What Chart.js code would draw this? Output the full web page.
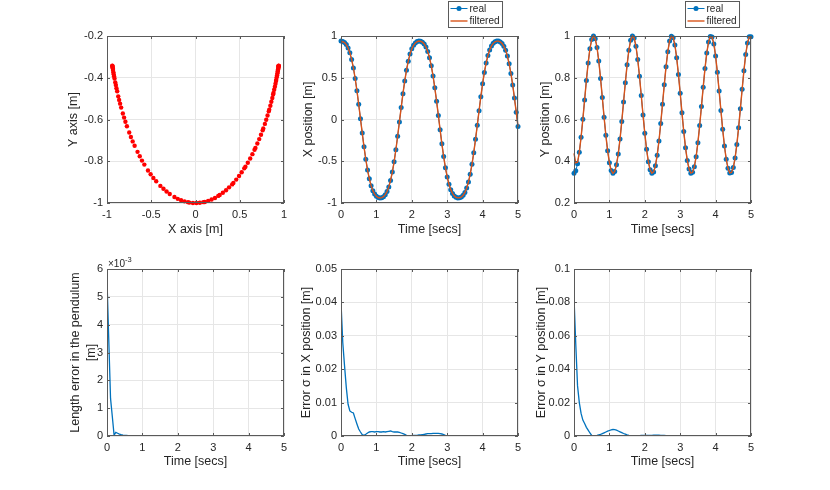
<!DOCTYPE html>
<html>
<head>
<meta charset="utf-8">
<script src="https://cdn.jsdelivr.net/npm/chart.js@4.4.0/dist/chart.umd.min.js"></script>
<style>
  body { margin: 0; background: #fff; }
  #fig { position: relative; width: 830px; height: 490px; background: #fff; overflow: hidden; }
  #fig canvas { position: absolute; }
</style>
</head>
<body>
<div id="fig">
  <canvas id="trajectory" width="261" height="248" style="left:37px;top:0px"></canvas>
  <canvas id="xpos" width="261" height="248" style="left:271px;top:0px"></canvas>
  <canvas id="ypos" width="261" height="248" style="left:504px;top:0px"></canvas>
  <canvas id="lenerr" width="261" height="242" style="left:37px;top:239px"></canvas>
  <canvas id="xerr" width="261" height="242" style="left:271px;top:239px"></canvas>
  <canvas id="yerr" width="261" height="242" style="left:504px;top:239px"></canvas>
</div>
<script>
// sample times [s]
const time = [0,0.05,0.1,0.15,0.2,0.25,0.3,0.35,0.4,0.45,
  0.5,0.55,0.6,0.65,0.7,0.75,0.8,0.85,0.9,0.95,
  1,1.05,1.1,1.15,1.2,1.25,1.3,1.35,1.4,1.45,
  1.5,1.55,1.6,1.65,1.7,1.75,1.8,1.85,1.9,1.95,
  2,2.05,2.1,2.15,2.2,2.25,2.3,2.35,2.4,2.45,
  2.5,2.55,2.6,2.65,2.7,2.75,2.8,2.85,2.9,2.95,
  3,3.05,3.1,3.15,3.2,3.25,3.3,3.35,3.4,3.45,
  3.5,3.55,3.6,3.65,3.7,3.75,3.8,3.85,3.9,3.95,
  4,4.05,4.1,4.15,4.2,4.25,4.3,4.35,4.4,4.45,
  4.5,4.55,4.6,4.65,4.7,4.75,4.8,4.85,4.9,4.95,
  5];

// measured X position [m]
const realX = [0.940,0.935,0.922,0.897,0.857,0.799,0.720,0.618,0.492,0.345,
  0.182,0.010,-0.163,-0.327,-0.476,-0.605,-0.710,-0.792,-0.852,-0.893,
  -0.920,-0.934,-0.940,-0.936,-0.924,-0.900,-0.863,-0.807,-0.730,-0.630,
  -0.507,-0.362,-0.201,-0.029,0.143,0.309,0.460,0.591,0.699,0.784,
  0.846,0.889,0.917,0.933,0.940,0.937,0.926,0.904,0.868,0.814,
  0.740,0.643,0.522,0.379,0.220,0.049,-0.124,-0.291,-0.444,-0.578,
  -0.688,-0.775,-0.840,-0.885,-0.915,-0.932,-0.939,-0.938,-0.928,-0.907,
  -0.873,-0.821,-0.749,-0.655,-0.537,-0.397,-0.238,-0.069,0.105,0.273,
  0.428,0.564,0.677,0.766,0.833,0.881,0.912,0.931,0.939,0.939,
  0.929,0.910,0.877,0.828,0.759,0.667,0.551,0.414,0.257,0.088,
  -0.085];

// filtered X position [m]
const filteredX = [0.925,0.932,0.922,0.897,0.857,0.799,0.720,0.618,0.492,0.345,
  0.182,0.010,-0.163,-0.327,-0.476,-0.605,-0.710,-0.792,-0.852,-0.893,
  -0.920,-0.934,-0.940,-0.936,-0.924,-0.900,-0.863,-0.807,-0.730,-0.630,
  -0.507,-0.362,-0.201,-0.029,0.143,0.309,0.460,0.591,0.699,0.784,
  0.846,0.889,0.917,0.933,0.940,0.937,0.926,0.904,0.868,0.814,
  0.740,0.643,0.522,0.379,0.220,0.049,-0.124,-0.291,-0.444,-0.578,
  -0.688,-0.775,-0.840,-0.885,-0.915,-0.932,-0.939,-0.938,-0.928,-0.907,
  -0.873,-0.821,-0.749,-0.655,-0.537,-0.397,-0.238,-0.069,0.105,0.273,
  0.428,0.564,0.677,0.766,0.833,0.881,0.912,0.931,0.939,0.939,
  0.929,0.910,0.877,0.828,0.759,0.667,0.551,0.414,0.257,0.088,
  -0.085];

// measured Y position [m]
const realY = [0.342,0.354,0.388,0.443,0.515,0.601,0.694,0.787,0.871,0.939,
  0.983,1.000,0.987,0.945,0.880,0.797,0.705,0.611,0.524,0.450,
  0.393,0.356,0.342,0.351,0.383,0.435,0.506,0.591,0.684,0.776,
  0.862,0.932,0.980,1.000,0.990,0.951,0.888,0.807,0.715,0.621,
  0.534,0.457,0.398,0.359,0.343,0.349,0.378,0.429,0.497,0.581,
  0.673,0.766,0.853,0.925,0.976,0.999,0.992,0.957,0.896,0.816,
  0.726,0.632,0.543,0.465,0.404,0.363,0.343,0.347,0.374,0.422,
  0.489,0.571,0.662,0.755,0.844,0.918,0.971,0.998,0.995,0.962,
  0.904,0.826,0.736,0.643,0.553,0.473,0.410,0.366,0.344,0.346,
  0.370,0.415,0.480,0.561,0.652,0.745,0.834,0.911,0.966,0.996,
  0.996];

// filtered Y position [m]
const filteredY = [0.438,0.392,0.395,0.443,0.515,0.601,0.694,0.787,0.871,0.939,
  0.983,1.000,0.987,0.945,0.880,0.797,0.705,0.611,0.524,0.450,
  0.393,0.356,0.342,0.351,0.383,0.435,0.506,0.591,0.684,0.776,
  0.862,0.932,0.980,1.000,0.990,0.951,0.888,0.807,0.715,0.621,
  0.534,0.457,0.398,0.359,0.343,0.349,0.378,0.429,0.497,0.581,
  0.673,0.766,0.853,0.925,0.976,0.999,0.992,0.957,0.896,0.816,
  0.726,0.632,0.543,0.465,0.404,0.363,0.343,0.347,0.374,0.422,
  0.489,0.571,0.662,0.755,0.844,0.918,0.971,0.998,0.995,0.962,
  0.904,0.826,0.736,0.643,0.553,0.473,0.410,0.366,0.344,0.346,
  0.370,0.415,0.480,0.561,0.652,0.745,0.834,0.911,0.966,0.996,
  0.996];

// trajectory, vertical coordinate [m]
const trajY = [-0.342,-0.354,-0.388,-0.443,-0.515,-0.601,-0.694,-0.787,-0.871,-0.939,
  -0.983,-1.000,-0.987,-0.945,-0.880,-0.797,-0.705,-0.611,-0.524,-0.450,
  -0.393,-0.356,-0.342,-0.351,-0.383,-0.435,-0.506,-0.591,-0.684,-0.776,
  -0.862,-0.932,-0.980,-1.000,-0.990,-0.951,-0.888,-0.807,-0.715,-0.621,
  -0.534,-0.457,-0.398,-0.359,-0.343,-0.349,-0.378,-0.429,-0.497,-0.581,
  -0.673,-0.766,-0.853,-0.925,-0.976,-0.999,-0.992,-0.957,-0.896,-0.816,
  -0.726,-0.632,-0.543,-0.465,-0.404,-0.363,-0.343,-0.347,-0.374,-0.422,
  -0.489,-0.571,-0.662,-0.755,-0.844,-0.918,-0.971,-0.998,-0.995,-0.962,
  -0.904,-0.826,-0.736,-0.643,-0.553,-0.473,-0.410,-0.366,-0.344,-0.346,
  -0.370,-0.415,-0.480,-0.561,-0.652,-0.745,-0.834,-0.911,-0.966,-0.996,
  -0.996];

// pendulum length error, in units of 1e-3 m
const lengthErr = [5.6,3.45,1.35,0.7,0.03,0.13,0.1,0.07,0.05,0.035,
  0.025,0.02,0.015,0.012,0.01,0.01,0.01,0.01,0.01,0.01,
  0.01,0.01,0.01,0.01,0.01,0.01,0.01,0.01,0.01,0.01,
  0.01,0.01,0.01,0.01,0.01,0.01,0.01,0.01,0.01,0.01,
  0.01,0.01,0.01,0.01,0.01,0.01,0.01,0.01,0.01,0.01,
  0.005,0.005,0.005,0.005,0.005,0.005,0.005,0.005,0.005,0.005,
  0.005,0.005,0.005,0.005,0.005,0.005,0.005,0.005,0.005,0.005,
  0.005,0.005,0.005,0.005,0.005,0.005,0.005,0.005,0.005,0.005,
  0.005,0.005,0.005,0.005,0.005,0.005,0.005,0.005,0.005,0.005,
  0.005,0.005,0.005,0.005,0.005,0.005,0.005,0.005,0.005,0.005,
  0.005];

// sigma of X position error [m]
const xErr = [0.040,0.028,0.021,0.0145,0.0095,0.0075,0.0071,0.0069,0.0052,0.0036,
  0.0021,0.0012,0.0004,0.0002,0.0005,0.0009,0.0012,0.0013,0.0013,0.0012,
  0.0013,0.0013,0.0012,0.0012,0.0013,0.0012,0.0013,0.0014,0.0015,0.0013,
  0.0012,0.0012,0.0012,0.0011,0.0009,0.0007,0.0005,0.0002,0.0001,0.0001,
  0.0001,0.0002,0.0002,0.0002,0.0003,0.0003,0.0004,0.0005,0.0006,0.0007,
  0.0007,0.0007,0.0008,0.0008,0.0008,0.0008,0.0007,0.0006,0.0004,0.0002,
  0.0001,0.0001,0.0001,0.0001,0.0001,0.0001,0.0001,0.0001,0.0001,0.0001,
  0.0001,0.0001,0.0001,0.0001,0.0001,0.0001,0.0001,0.0001,0.0001,0.0001,
  0.00005,0.00005,0.00005,0.00005,0.00005,0.00005,0.00005,0.00005,0.00005,0.00005,
  0.00005,0.00005,0.00005,0.00005,0.00005,0.00005,0.00005,0.00005,0.00005,0.00005,
  0.00005];

// sigma of Y position error [m]
const yErr = [0.083,0.055,0.030,0.020,0.0135,0.0095,0.0075,0.0052,0.0035,0.0018,
  0.0003,0.0001,0.0002,0.0004,0.0007,0.0010,0.0014,0.0019,0.0024,0.0029,
  0.0033,0.0037,0.0039,0.0038,0.0035,0.0030,0.0025,0.0020,0.0015,0.0011,
  0.0007,0.0004,0.0002,0.0001,0.0001,0.0001,0.0002,0.0002,0.0003,0.0003,
  0.0003,0.0003,0.0003,0.0003,0.0004,0.0005,0.0005,0.0005,0.0005,0.0004,
  0.0004,0.0003,0.0002,0.0001,0.0001,0.0001,0.0001,0.0001,0.0001,0.0001,
  0.0001,0.0001,0.0001,0.0001,0.0001,0.0001,0.0001,0.0001,0.0001,0.0001,
  0.00005,0.00005,0.00005,0.00005,0.00005,0.00005,0.00005,0.00005,0.00005,0.00005,
  0.00005,0.00005,0.00005,0.00005,0.00005,0.00005,0.00005,0.00005,0.00005,0.00005,
  0.00005,0.00005,0.00005,0.00005,0.00005,0.00005,0.00005,0.00005,0.00005,0.00005,
  0.00005];

const FONT = "'Liberation Sans', Arial, Helvetica, sans-serif";
const INK = '#262626';
const BLUE = '#0072BD';
const ORANGE = '#D95319';
const RED = '#FF0000';

const fmt = v => String(Math.round(v * 1e6) / 1e6);
const pts = (xs, ys) => xs.map((x, i) => ({ x: x, y: ys[i] }));

// matlab look: boxed axes, inward ticks, legend box and exponent label
const matlabAxes = {
  id: 'matlabAxes',
  afterDraw(chart, args, opts) {
    const { ctx, chartArea: a, scales } = chart;
    ctx.save();
    ctx.strokeStyle = '#5a5a5a';
    ctx.lineWidth = 1;
    ctx.strokeRect(Math.round(a.left) + 0.5, Math.round(a.top) + 0.5,
      Math.round(a.width) - 1, Math.round(a.height) - 1);
    ctx.beginPath();
    scales.x.ticks.forEach(t => {
      const px = Math.round(scales.x.getPixelForValue(t.value)) + 0.5;
      ctx.moveTo(px, a.bottom); ctx.lineTo(px, a.bottom - 3);
      ctx.moveTo(px, a.top); ctx.lineTo(px, a.top + 3);
    });
    scales.y.ticks.forEach(t => {
      const py = Math.round(scales.y.getPixelForValue(t.value)) + 0.5;
      ctx.moveTo(a.left, py); ctx.lineTo(a.left + 3, py);
      ctx.moveTo(a.right, py); ctx.lineTo(a.right - 3, py);
    });
    ctx.stroke();

    if (opts.legendRight) {
      const ds = chart.data.datasets;
      ctx.font = '10px ' + FONT;
      const tw = Math.max(...ds.map(d => ctx.measureText(d.label).width));
      const w = 21 + tw + 3, h = 26;
      const left = Math.round(a.right - opts.legendRight - w) + 0.5, top = 1.5;
      ctx.fillStyle = '#fff';
      ctx.fillRect(left, top, w, h);
      ctx.strokeStyle = '#5a5a5a';
      ctx.strokeRect(left, top, w, h);
      ds.forEach((d, i) => {
        const y = top + 7 + i * 12.5;
        ctx.strokeStyle = d.borderColor;
        ctx.lineWidth = d.borderWidth;
        ctx.beginPath(); ctx.moveTo(left + 2, y); ctx.lineTo(left + 19, y); ctx.stroke();
        if (d.pointRadius) {
          ctx.fillStyle = d.pointBackgroundColor;
          ctx.beginPath(); ctx.arc(left + 10.5, y, d.pointRadius, 0, Math.PI * 2); ctx.fill();
        }
        ctx.fillStyle = INK;
        ctx.textBaseline = 'middle';
        ctx.fillText(d.label, left + 21, y + 0.5);
      });
    }

    if (opts.exponent) {
      ctx.fillStyle = INK;
      ctx.textBaseline = 'alphabetic';
      ctx.font = '10px ' + FONT;
      ctx.fillText('\u00d710', a.left + 1, a.top - 2);
      const w = ctx.measureText('\u00d710').width;
      ctx.font = '7.5px ' + FONT;
      ctx.fillText(opts.exponent, a.left + 1 + w, a.top - 7);
    }
    ctx.restore();
  }
};

function axis(min, max, step, title, titlePad, isY) {
  return {
    type: 'linear', min: min, max: max,
    afterFit: s => { if (isY) s.width = 70; else s.height = 45; },
    ticks: {
      stepSize: step, color: INK, padding: isY ? 4 : 5, maxRotation: 0, autoSkip: false,
      font: { family: FONT, size: 11 }, callback: v => fmt(v)
    },
    grid: { color: '#e6e6e6', drawTicks: false, lineWidth: 1 },
    border: { display: false },
    title: {
      display: true, text: title, color: INK,
      font: { family: FONT, size: 12.5, lineHeight: 1.3 },
      padding: isY ? { top: titlePad, bottom: 0 } : { top: 0, bottom: titlePad }
    }
  };
}

function panel(id, datasets, xs, ys, padTop, plugOpts) {
  new Chart(document.getElementById(id), {
    type: 'scatter',
    data: { datasets: datasets },
    options: {
      responsive: false,
      animation: false,
      events: [],
      layout: { padding: { top: padTop, right: 14, left: 0, bottom: 0 } },
      plugins: { legend: { display: false }, tooltip: { enabled: false }, matlabAxes: plugOpts || {} },
      scales: { x: xs, y: ys }
    },
    plugins: [matlabAxes]
  });
}

function realSet(ys) {
  return {
    label: 'real', data: pts(time, ys), showLine: true, order: 1, clip: false,
    borderColor: BLUE, borderWidth: 1, pointRadius: 2.5,
    pointBackgroundColor: BLUE, pointBorderWidth: 0
  };
}
function filtSet(ys) {
  return {
    label: 'filtered', data: pts(time, ys), showLine: true, order: 0, clip: false,
    borderColor: ORANGE, borderWidth: 1.4, pointRadius: 0
  };
}
function errSet(ys) {
  return {
    label: 'error', data: pts(time, ys), showLine: true,
    borderColor: BLUE, borderWidth: 1.3, pointRadius: 0
  };
}

panel('trajectory', [{
    label: 'trajectory', data: pts(realX, trajY), clip: false,
    pointRadius: 2.2, pointBackgroundColor: RED, pointBorderWidth: 0, showLine: false
  }],
  axis(-1, 1, 0.5, 'X axis [m]', 10.5, false),
  axis(-1, -0.2, 0.2, 'Y axis [m]', 28.7, true), 36);

panel('xpos', [realSet(realX), filtSet(filteredX)],
  axis(0, 5, 1, 'Time [secs]', 10.5, false),
  axis(-1, 1, 0.5, 'X position [m]', 29.7, true), 36, { legendRight: 16 });

panel('ypos', [realSet(realY), filtSet(filteredY)],
  axis(0, 5, 1, 'Time [secs]', 10.5, false),
  axis(0.2, 1, 0.2, 'Y position [m]', 33.4, true), 36, { legendRight: 12 });

panel('lenerr', [errSet(lengthErr)],
  axis(0, 5, 1, 'Time [secs]', 11.5, false),
  axis(0, 6, 1, ['Length error in the pendulum', '[m]'], 30, true), 30, { exponent: '-3' });

panel('xerr', [errSet(xErr)],
  axis(0, 5, 1, 'Time [secs]', 11.5, false),
  axis(0, 0.05, 0.01, 'Error \u03c3 in X position [m]', 27.4, true), 30);

panel('yerr', [errSet(yErr)],
  axis(0, 5, 1, 'Time [secs]', 11.5, false),
  axis(0, 0.1, 0.02, 'Error \u03c3 in Y position [m]', 29.1, true), 30);
</script>
</body>
</html>
